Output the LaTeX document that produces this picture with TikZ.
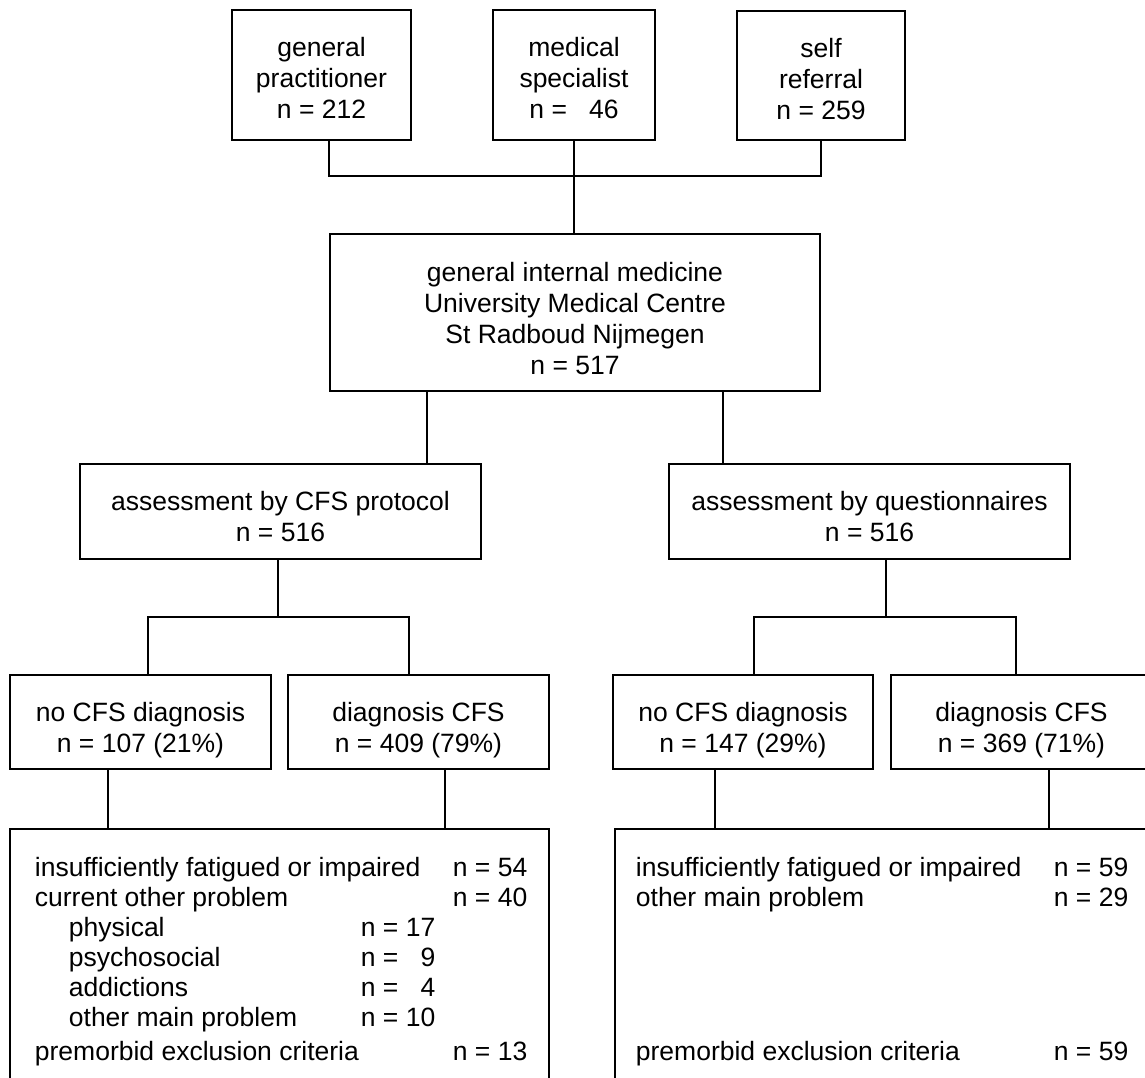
\documentclass[tikz,border=0pt]{standalone}
\usepackage{fontspec}
\setmainfont{Liberation Sans}
% invisible rule that sets the height of the first text line in a box
\newcommand\firstline[1]{\rule{0pt}{#1pt}}
\begin{document}
\begin{tikzpicture}[x=1pt,y=-1pt,
  line width=1.8pt,
  box/.style={draw, line width=1.8pt, align=center, inner sep=0pt,
    font=\fontsize{26.5}{31}\selectfont},
  item/.style={anchor=base west, inner sep=0pt,
    font=\fontsize{26.5}{30}\selectfont}]

\useasboundingbox (0,0) rectangle (1145,1078);
\clip (0,0) rectangle (1145,1078);
\fill[white] (0,0) rectangle (1145,1078);

% referral sources
\node[box, minimum width=179pt, minimum height=130pt] (gp) at (321.5,75)
  {\firstline{26}general\\practitioner\\n = 212};
\node[box, minimum width=162pt, minimum height=130pt] (ms) at (574,75)
  {\firstline{26}medical\\specialist\\n = \ \ 46};
\node[box, minimum width=168pt, minimum height=129pt] (sr) at (821,75.5)
  {\firstline{26}self\\referral\\n = 259};

% department
\node[box, minimum width=490pt, minimum height=157pt] (gim) at (575,312.5)
  {\firstline{31}general internal medicine\\University Medical Centre\\St Radboud Nijmegen\\n = 517};

% two assessment routes
\node[box, minimum width=401pt, minimum height=95pt] (cfsp) at (280.5,511.5)
  {\firstline{30}assessment by CFS protocol\\n = 516};
\node[box, minimum width=401pt, minimum height=95pt] (qst) at (869.5,511.5)
  {\firstline{30}assessment by questionnaires\\n = 516};

% outcomes
\node[box, minimum width=261pt, minimum height=94pt] (noL) at (140.5,722)
  {\firstline{36}no CFS diagnosis\\n = 107 (21\%)};
\node[box, minimum width=261pt, minimum height=94pt] (dxL) at (418.5,722)
  {\firstline{36}diagnosis CFS\\n = 409 (79\%)};
\node[box, minimum width=260pt, minimum height=94pt] (noR) at (743,722)
  {\firstline{36}no CFS diagnosis\\n = 147 (29\%)};
\node[box, minimum width=261pt, minimum height=94pt] (dxR) at (1021.5,722)
  {\firstline{36}diagnosis CFS\\n = 369 (71\%)};

% reasons for no CFS diagnosis
\node[box, minimum width=539pt, minimum height=271pt] (exL) at (279.5,964.5) {};
\node[box, minimum width=545pt, minimum height=271pt] (exR) at (887.5,964.5) {};

\node[item] (l1) at (34,876) {insufficiently fatigued or impaired};
\node[item] (l1n) at (452,876) {n = 54};
\node[item] (l2) at (34,906) {current other problem};
\node[item] (l2n) at (452,906) {n = 40};
\node[item] (l3) at (68,936) {physical};
\node[item] (l3n) at (360,936) {n = 17};
\node[item] (l4) at (68,966) {psychosocial};
\node[item] (l4n) at (360,966) {n = \phantom{1}9};
\node[item] (l5) at (68,996) {addictions};
\node[item] (l5n) at (360,996) {n = \phantom{1}4};
\node[item] (l6) at (68,1026) {other main problem};
\node[item] (l6n) at (360,1026) {n = 10};
\node[item] (l7) at (34,1060) {premorbid exclusion criteria};
\node[item] (l7n) at (452,1060) {n = 13};

\node[item] (r1) at (635,876) {insufficiently fatigued or impaired};
\node[item] (r1n) at (1053,876) {n = 59};
\node[item] (r2) at (635,906) {other main problem};
\node[item] (r2n) at (1053,906) {n = 29};
\node[item] (r3) at (635,1060) {premorbid exclusion criteria};
\node[item] (r3n) at (1053,1060) {n = 59};

% connectors
\coordinate (jTop) at (574,176);
\draw (gp.south -| gim.west) |- (jTop) -| (sr.south -| gim.east);
\draw (ms.south) -- (gim.north -| ms.south);

\draw (gim.south -| 427,0) -- (cfsp.north -| 427,0);
\draw (gim.south -| 723,0) -- (qst.north -| 723,0);

\coordinate (busL) at (278,617);
\draw (cfsp.south -| busL) -- (busL);
\draw (noL.north -| 148,0) |- (busL) -| (dxL.north -| 409,0);

\coordinate (busR) at (886,617);
\draw (qst.south -| busR) -- (busR);
\draw (noR.north -| 754,0) |- (busR) -| (dxR.north -| 1016,0);

\draw (noL.south -| 108,0) -- (exL.north -| 108,0);
\draw (dxL.south -| 445,0) -- (exL.north -| 445,0);
\draw (noR.south -| 715,0) -- (exR.north -| 715,0);
\draw (dxR.south -| 1049,0) -- (exR.north -| 1049,0);
\end{tikzpicture}
\end{document}
